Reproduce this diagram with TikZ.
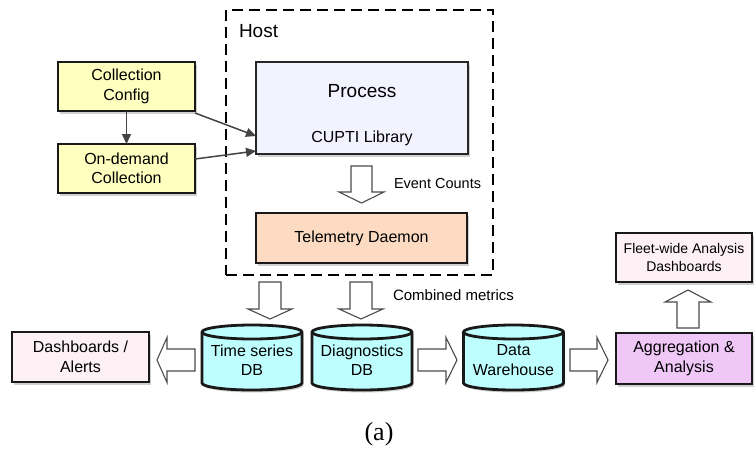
\documentclass[tikz,border=0pt]{standalone}
\usepackage{fontspec}
\setmainfont{Liberation Sans}
\newfontfamily\captionserif{Liberation Serif}
\usetikzlibrary{arrows.meta,shadows,calc}
\definecolor{yelfill}{HTML}{FFFFC0}
\definecolor{procfill}{HTML}{F3F2FF}
\definecolor{telfill}{HTML}{FCDBC2}
\definecolor{pinkfill}{HTML}{FDF1F6}
\definecolor{cyanfill}{HTML}{BEFEFE}
\definecolor{aggfill}{HTML}{F0C8F8}
\definecolor{edgegray}{HTML}{444444}
\newcommand\DBcyl[1]{%
  \path[dbbody] ($(#1.north west)+(0,7)$) -- ($(#1.south west)+(0,-7)$)
    arc[start angle=180,end angle=360,x radius=50pt,y radius=7pt]
    -- ($(#1.north east)+(0,7)$)
    arc[start angle=0,end angle=180,x radius=50pt,y radius=7pt] -- cycle;
  \draw[dbline] ($(#1.north west)+(0,7)$)
    arc[start angle=180,end angle=360,x radius=50pt,y radius=7pt];}
\begin{document}
\begin{tikzpicture}[x=1pt,y=-1pt,
  every node/.style={inner sep=0pt,outer sep=0pt},
  txt/.style={font=\fontsize{16}{19.5}\selectfont,align=center},
  smalltxt/.style={font=\fontsize{14.5}{17}\selectfont},
  shad/.style={drop shadow={shadow xshift=1.5pt,shadow yshift=-2.5pt,opacity=0.3,fill=black!60}},
  boxbase/.style={txt,draw=black!90,line width=2.8pt,shad},
  ybox/.style={boxbase,fill=yelfill,minimum width=137pt,minimum height=49pt},
  procbox/.style={draw=black!85,line width=1.6pt,fill=procfill,shad,minimum width=212pt,minimum height=92pt},
  telbox/.style={boxbase,fill=telfill,minimum width=211pt,minimum height=50pt},
  pinkbox/.style={boxbase,fill=pinkfill},
  aggbox/.style={boxbase,fill=aggfill,minimum width=136pt,minimum height=51pt},
  hostbox/.style={draw=black,line width=2.8pt,dash pattern=on 11pt off 6pt,minimum width=267pt,minimum height=265pt},
  dbnode/.style={minimum width=100pt,minimum height=65pt},
  dbbody/.style={fill=cyanfill,draw=black!90,line width=2.8pt,shad},
  dbline/.style={draw=black!90,line width=2.8pt},
  hollow/.style={draw=black!70,fill=white,line width=1.1pt,line join=miter},
  thinarrow/.style={draw=edgegray,line width=1.5pt,-{Triangle[length=10pt,width=9pt]}}
]
\useasboundingbox (0,0) rectangle (754,450);
\fill[white] (0,0) rectangle (754,450);

% Host frame
\node[hostbox] (host) at (359.5,142.5) {};
\node[anchor=west,font=\fontsize{19}{22}\selectfont] (hostl) at (239,31) {Host};

% Left config boxes
\node[ybox] (cc) at (126.5,86.5) {Collection\\Config};
\node[ybox] (oc) at (126.5,168.5) {On-demand\\Collection};

% Process
\node[procbox] (proc) at (362,108) {};
\node[anchor=base,font=\fontsize{19}{22}\selectfont] (proct) at (362,97.8) {Process};
\node[anchor=base,font=\fontsize{16}{19}\selectfont] (cupti) at (362,142.7) {CUPTI Library};

% Telemetry
\node[telbox] (tel) at (361.5,238) {Telemetry Daemon};

% thin arrows
\draw[thinarrow] (cc.south) -- (oc.north);
\draw[thinarrow] ($(cc.south east)+(0,2)$) -- ($(proc.south west)+(0,-18)$);
\draw[thinarrow] ($(oc.north east)+(0,15)$) -- ($(proc.south west)+(0,-3)$);

% hollow arrow Process -> Telemetry
\draw[hollow] (351,166) -- (372,166) -- (372,192) -- (384,192) -- (361.5,203) -- (339,192) -- (351,192) -- cycle;
\node[smalltxt,anchor=west] (evc) at (394,184) {Event Counts};

% Databases
\node[dbnode] (tsdb) at (252,357.5) {};
\node[dbnode] (diag) at (362,357.5) {};
\node[dbnode] (dw) at (513.5,357.5) {};
\DBcyl{tsdb}
\DBcyl{diag}
\DBcyl{dw}
\node[txt] (tsdbt) at (252,360) {Time series\\DB};
\node[txt] (diagt) at (362,360) {Diagnostics\\DB};
\node[txt] (dwt) at (513.5,360) {Data\\Warehouse};

% hollow arrows Telemetry -> DBs
\draw[hollow] (259,282) -- (281,282) -- (281,309) -- (292,309) -- (270,319) -- (248,309) -- (259,309) -- cycle;
\draw[hollow] (350,282) -- (372,282) -- (372,309) -- (383,309) -- (361,319) -- (339,309) -- (350,309) -- cycle;
\node[font=\fontsize{15}{17}\selectfont,anchor=west] (cm) at (393,295) {Combined metrics};

% Dashboards
\node[pinkbox,minimum width=137pt,minimum height=50pt] (dash) at (80.5,357) {Dashboards /\\Alerts};
\draw[hollow] (195,349) -- (195,371) -- (167,371) -- (167,382.5) -- (157,360) -- (167,337.5) -- (167,349) -- cycle;

% right flow
\draw[hollow] (418,349) -- (446,349) -- (446,337.5) -- (457,360) -- (446,382.5) -- (446,371) -- (418,371) -- cycle;
\draw[hollow] (570,349) -- (597,349) -- (597,337.5) -- (608,360) -- (597,382.5) -- (597,371) -- (570,371) -- cycle;

\node[aggbox] (agg) at (684,358.5) {Aggregation \&\\Analysis};
\node[pinkbox,font=\fontsize{14}{18}\selectfont,minimum width=136pt,minimum height=49pt] (fleet) at (684,257.5) {Fleet-wide Analysis\\Dashboards};
\draw[hollow] (677,328) -- (699,328) -- (699,302) -- (711,302) -- (688,290) -- (665,302) -- (677,302) -- cycle;

% caption
\node[font=\captionserif\fontsize{26}{30}\selectfont] (cap) at (379,434) {(a)};
\end{tikzpicture}
\end{document}
